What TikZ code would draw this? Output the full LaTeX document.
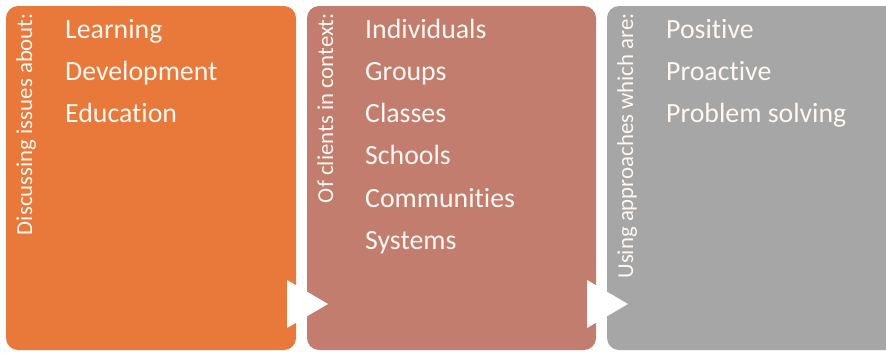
\documentclass[tikz,border=0pt]{standalone}
\usepackage{fontspec}
\setmainfont{Carlito}[Ligatures={NoCommon}]
\definecolor{cOrange}{HTML}{E8793A}
\definecolor{cBrown}{HTML}{C27D6E}
\definecolor{cGrey}{HTML}{A6A6A6}
\definecolor{cText}{HTML}{FFF8F2}
\tikzset{
  panel/.style={rounded corners=12pt, draw=none},
  item/.style={anchor=base west, inner sep=0pt, text=cText, font=\fontsize{27.8}{33}\selectfont},
  vlabel/.style={anchor=base east, inner sep=0pt, rotate=90, text=cText, font=\fontsize{22.8}{26}\selectfont},
  arrowtri/.style={fill=white, draw=none}
}
\begin{document}
\begin{tikzpicture}[x=1pt,y=-1pt]
\useasboundingbox (0,0) rectangle (886,354);
\fill[white] (0,0) rectangle (886,354);
\clip (0,0) rectangle (886,354);
% panels
\fill[panel, cOrange] (6,6) rectangle (296,350);
\fill[panel, cBrown] (307,6) rectangle (596,350);
\fill[panel, cGrey] (607,6) rectangle (898,350);
% vertical labels
\node[vlabel] (v1) at (32,13) {Discussing issues about:};
\node[vlabel] (v2) at (333,13) {Of clients in context:};
\node[vlabel] (v3) at (633,13) {Using approaches which are:};
% items panel 1
\node[item] (a1) at (65,38) {Learning};
\node[item] (a2) at (65,80.3) {Development};
\node[item] (a3) at (65,122.6) {Education};
% items panel 2
\node[item] (b1) at (365,38) {Individuals};
\node[item] (b2) at (365,80.3) {Groups};
\node[item] (b3) at (365,122.6) {Classes};
\node[item] (b4) at (365,164.9) {Schools};
\node[item] (b5) at (365,207.2) {Communities};
\node[item] (b6) at (365,249.5) {Systems};
% items panel 3
\node[item] (c1) at (666,38) {Positive};
\node[item] (c2) at (666,80.3) {Proactive};
\node[item] (c3) at (666,122.6) {Problem solving};
% triangles
\fill[arrowtri] (287,280) -- (287,328) -- (328,304) -- cycle;
\fill[arrowtri] (587,280) -- (587,328) -- (628,304) -- cycle;
\end{tikzpicture}
\end{document}
